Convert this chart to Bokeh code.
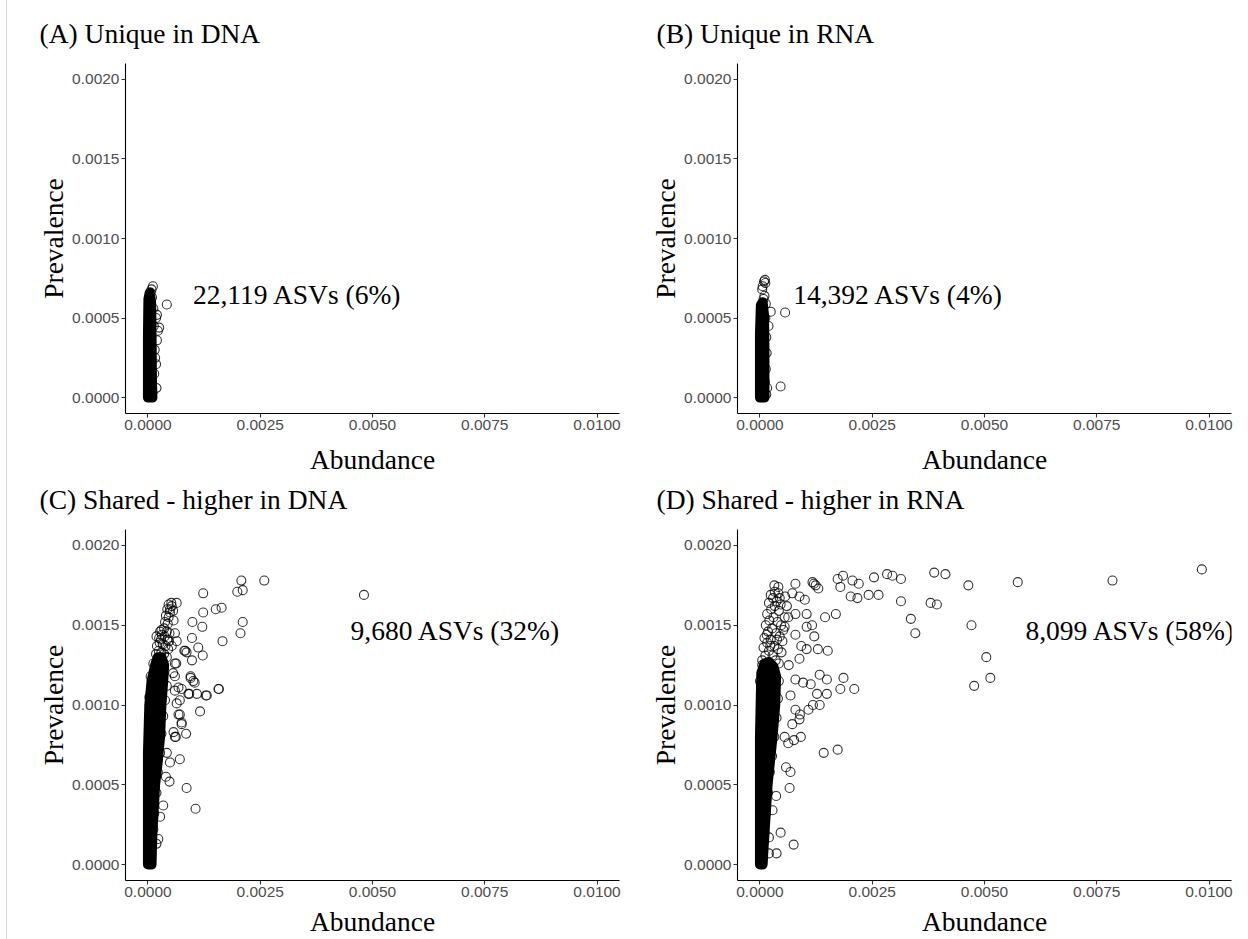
from bokeh.plotting import figure
from bokeh.layouts import column, row
from bokeh.models import FixedTicker, PrintfTickFormatter, Range1d, Label
from bokeh.embed import file_html
from bokeh.resources import INLINE

# ---------------- data ----------------
titles = ["(A) Unique in DNA", "(B) Unique in RNA",
          "(C) Shared - higher in DNA", "(D) Shared - higher in RNA"]
notes = ["22,119 ASVs (6%)", "14,392 ASVs (4%)", "9,680 ASVs (32%)", "8,099 ASVs (58%)"]
x_ticks = [0.0, 0.0025, 0.005, 0.0075, 0.01]
y_ticks = [0.0, 0.0005, 0.001, 0.0015, 0.002]

# dense (saturated) core of each cloud: envelope of the overlapping points
A_core_x = [0.0, 0.00010, 0.00009, 0.00008, 0.00007, 0.00004, 0.00001, 0.0]
A_core_y = [0.0, 0.0, 0.00010, 0.00040, 0.00060, 0.00066, 0.00062, 0.00040]
B_core_x = [0.0, 0.00010, 0.00010, 0.00009, 0.00006, 0.00002, 0.0]
B_core_y = [0.0, 0.0, 0.00030, 0.00052, 0.00060, 0.00058, 0.00040]
C_core_x = [0.0, 0.00008, 0.00010, 0.00016, 0.00022, 0.00027, 0.00030, 0.00034, 0.00036,
            0.00030, 0.00022, 0.00016, 0.00008, 0.00003, 0.0]
C_core_y = [0.0, 0.0, 0.00020, 0.00050, 0.00065, 0.00080, 0.00100, 0.00115, 0.00125,
            0.00130, 0.00130, 0.00125, 0.00115, 0.00100, 0.00070]
D_core_x = [0.0, 0.00006, 0.00008, 0.00017, 0.00028, 0.00034, 0.00036, 0.00030,
            0.00020, 0.00010, 0.00003, 0.0]
D_core_y = [0.0, 0.0, 0.00010, 0.00050, 0.00080, 0.00100, 0.00118, 0.00124,
            0.00127, 0.00126, 0.00120, 0.00080]

# individually visible points
A_x = [0.00011, 0.00008, 0.00006, 0.00009, 0.00042, 0.00025, 0.00022, 0.00020, 0.00018,
       0.00020, 0.00018, 0.00019, 0.00015, 0.00016, 0.00014, 0.00013, 0.00012, 0.00010]
A_y = [0.00070, 0.00068, 0.00066, 0.00063, 0.000585, 0.00044, 0.00042, 0.00052, 0.00050,
       0.00036, 0.00021, 0.00006, 0.00030, 0.00025, 0.00015, 0.00045, 0.00056, 0.00003]
B_x = [0.00011, 0.00009, 0.00012, 0.00006, 0.00005, 0.00010, 0.00008, 0.00013, 0.00056,
       0.00046, 0.00024, 0.00019, 0.00015, 0.00016, 0.00012, 0.00014, 0.00013, 0.00011,
       0.00014, 0.00010]
B_y = [0.00074, 0.00073, 0.00072, 0.00070, 0.00068, 0.00064, 0.00062, 0.00059, 0.000535,
       0.00007, 0.00054, 0.00045, 0.00028, 0.00006, 0.00050, 0.00038, 0.00018, 0.00010,
       0.00002, 0.00001]
C_x = [0.00259, 0.00208, 0.00199, 0.00211, 0.00481, 0.00123, 0.00151, 0.00164, 0.00123,
       0.00099, 0.00121, 0.00211, 0.00206, 0.00166, 0.00098, 0.00112, 0.00122, 0.00083,
       0.00098, 0.00095, 0.00101, 0.00158, 0.00129, 0.00109, 0.00092, 0.00075, 0.00116,
       0.00085, 0.00071, 0.00086, 0.00106, 0.00048, 0.00040, 0.00057, 0.00062, 0.00075,
       0.00068, 0.00071, 0.00064, 0.00053, 0.00049, 0.00057, 0.00060, 0.00064, 0.00053,
       0.00027, 0.00019, 0.00063, 0.00060, 0.00060, 0.00034, 0.00027, 0.00023,
       0.00019, 0.00042, 0.00049, 0.00081, 0.00086, 0.00095, 0.00104, 0.00090, 0.00131,
       0.00157,
       0.00018, 0.00024, 0.00030, 0.00036, 0.00042, 0.00020, 0.00026, 0.00033, 0.00039,
       0.00045, 0.00025, 0.00031, 0.00037, 0.00043, 0.00030, 0.00036, 0.00042, 0.00048,
       0.00038, 0.00044, 0.00040, 0.00046, 0.00043, 0.00049, 0.00046, 0.00052, 0.00056,
       0.00029, 0.00047,
       0.00012, 0.00014, 0.00019, 0.00022, 0.00027, 0.00030, 0.00034, 0.00038, 0.00042,
       0.00060, 0.00056, 0.00068, 0.00064, 0.00071, 0.00075, 0.00060, 0.00003, 0.00006,
       0.00012]
C_y = [0.00178, 0.00178, 0.00171, 0.00172, 0.00169, 0.00170, 0.00160, 0.00161, 0.00158,
       0.00152, 0.00149, 0.00152, 0.00145, 0.00140, 0.00142, 0.00136, 0.00131, 0.00134,
       0.00128, 0.00118, 0.00115, 0.00110, 0.00106, 0.00107, 0.00107, 0.00110, 0.00096,
       0.00082, 0.00066, 0.00048, 0.00035, 0.00052, 0.00055, 0.00083, 0.00080, 0.00089,
       0.00094, 0.00103, 0.00164, 0.00162, 0.00158, 0.00153, 0.00145, 0.00140, 0.00137,
       0.00146, 0.00143, 0.00126, 0.00118, 0.00109, 0.00037, 0.00030, 0.00016,
       0.00013, 0.00070, 0.00064, 0.00134, 0.00133, 0.00117, 0.00114, 0.00107, 0.00106,
       0.00110,
       0.00132, 0.00134, 0.00133, 0.00132, 0.00130, 0.00137, 0.00139, 0.00138, 0.00137,
       0.00135, 0.00142, 0.00144, 0.00143, 0.00141, 0.00147, 0.00148, 0.00146, 0.00145,
       0.00152, 0.00151, 0.00156, 0.00155, 0.00160, 0.00160, 0.00163, 0.00164, 0.00159,
       0.00141, 0.00140,
       0.00022, 0.00032, 0.00045, 0.00058, 0.00070, 0.00082, 0.00093, 0.00103, 0.00112,
       0.00126, 0.00120, 0.00111, 0.00101, 0.00094, 0.00088, 0.00080, 0.00105, 0.00118,
       0.00126]
D_x = [0.00984, 0.00785, 0.00574, 0.00464, 0.00413, 0.00388, 0.00314, 0.00295, 0.00283,
       0.00254, 0.00220, 0.00206, 0.00185, 0.00173, 0.00179, 0.00202, 0.00217, 0.00242,
       0.00264, 0.00314, 0.00380, 0.00394, 0.00336, 0.00346, 0.00471, 0.00504, 0.00513,
       0.00477, 0.00117, 0.00120, 0.00124, 0.00130, 0.00032, 0.00041, 0.00079, 0.00169,
       0.00145, 0.00151, 0.00129, 0.00121, 0.00104, 0.00116, 0.00104, 0.00133, 0.00149,
       0.00186, 0.00179, 0.00210, 0.00149, 0.00127, 0.00133, 0.00118, 0.00108, 0.00089,
       0.00142, 0.00173, 0.00091, 0.00076, 0.00058, 0.00068, 0.00066, 0.00036, 0.00046,
       0.00075, 0.00037, 0.00020, 0.00020, 0.00028, 0.00088, 0.00100, 0.00072, 0.00056,
       0.00044, 0.00079, 0.00063, 0.00055, 0.00079, 0.00092, 0.00104, 0.00088, 0.00064,
       0.00079, 0.00096, 0.00113, 0.00068, 0.00079, 0.00072, 0.00088, 0.00055, 0.00063,
       0.00005, 0.00012, 0.00020, 0.00028, 0.00035, 0.00042, 0.00008, 0.00016, 0.00024,
       0.00032, 0.00040, 0.00048, 0.00010, 0.00018, 0.00027, 0.00036, 0.00044, 0.00013,
       0.00021, 0.00030, 0.00039, 0.00047, 0.00016, 0.00025, 0.00033, 0.00042, 0.00020,
       0.00029, 0.00037, 0.00046, 0.00024, 0.00033, 0.00041, 0.00015, 0.00023, 0.00038,
       0.00050, 0.00052, 0.00055, 0.00060,
       0.00010, 0.00013, 0.00018, 0.00022, 0.00027, 0.00032, 0.00037, 0.00040, 0.00042,
       0.00005, 0.0]
D_y = [0.00185, 0.00178, 0.00177, 0.00175, 0.00182, 0.00183, 0.00179, 0.00181, 0.00182,
       0.00180, 0.00176, 0.00178, 0.00181, 0.00179, 0.00174, 0.00168, 0.00167, 0.00169,
       0.00169, 0.00165, 0.00164, 0.00163, 0.00154, 0.00145, 0.00150, 0.00130, 0.00117,
       0.00112, 0.00177, 0.00176, 0.00175, 0.00173, 0.00175, 0.00174, 0.00176, 0.00157,
       0.00155, 0.00134, 0.00135, 0.00143, 0.00149, 0.00150, 0.00157, 0.00119, 0.00116,
       0.00117, 0.00110, 0.00110, 0.00107, 0.00107, 0.00100, 0.00100, 0.00097, 0.00094,
       0.00070, 0.00072, 0.00080, 0.00078, 0.00061, 0.00058, 0.00048, 0.00043, 0.00020,
       0.000125, 0.00007, 0.00007, 0.00017, 0.00034, 0.00168, 0.00166, 0.00170, 0.00168,
       0.00167, 0.00157, 0.00155, 0.00149, 0.00144, 0.00137, 0.00135, 0.00129, 0.00125,
       0.00116, 0.00114, 0.00113, 0.00106, 0.00097, 0.00088, 0.00091, 0.00080, 0.00076,
       0.00125, 0.00131, 0.00134, 0.00131, 0.00128, 0.00126, 0.00136, 0.00139, 0.00141,
       0.00137, 0.00135, 0.00133, 0.00142, 0.00146, 0.00148, 0.00145, 0.00143, 0.00150,
       0.00153, 0.00155, 0.00152, 0.00150, 0.00157, 0.00160, 0.00162, 0.00159, 0.00164,
       0.00167, 0.00165, 0.00163, 0.00169, 0.00171, 0.00170, 0.00144, 0.00137, 0.00141,
       0.00140, 0.00147, 0.00155, 0.00162,
       0.00020, 0.00032, 0.00045, 0.00058, 0.00068, 0.00080, 0.00092, 0.00104, 0.00115,
       0.00128, 0.00115]

note_pos = [(0.00333, 0.00065), (0.00308, 0.00065), (0.00685, 0.00147), (0.00825, 0.00147)]

SERIF = "Liberation Serif"
SANS = "Liberation Sans"


def panel(i, core_x, core_y, px, py, width, height, left, right, top, bottom,
          title_offset, title_standoff, xlabel_standoff):
    p = figure(width=width, height=height,
               x_range=Range1d(-0.0005, 0.0105), y_range=Range1d(-0.0001, 0.0021),
               output_backend="svg", toolbar_location=None,
               min_border_left=left, min_border_right=right,
               min_border_top=top, min_border_bottom=bottom,
               x_axis_label="Abundance", y_axis_label="Prevalence")
    p.title.text = titles[i]
    p.title.align = "left"
    p.title.offset = title_offset
    p.title.text_font = SERIF
    p.title.text_font_size = "27.5px"
    p.title.text_font_style = "normal"
    p.title.text_color = "black"
    p.title.standoff = title_standoff
    p.outline_line_color = None
    p.xgrid.visible = False
    p.ygrid.visible = False
    p.background_fill_color = None
    p.border_fill_color = None

    p.patch(core_x, core_y, fill_color="black", line_color="black",
            line_width=10, line_join="round")
    p.scatter(px, py, marker="circle", size=9, fill_color=None,
              line_color="black", line_alpha=0.8, line_width=1.1)

    p.xaxis.ticker = FixedTicker(ticks=x_ticks)
    p.yaxis.ticker = FixedTicker(ticks=y_ticks)
    p.xaxis.formatter = PrintfTickFormatter(format="%.4f")
    p.yaxis.formatter = PrintfTickFormatter(format="%.4f")
    for ax in (p.xaxis[0], p.yaxis[0]):
        ax.axis_line_color = "black"
        ax.axis_line_width = 1.1
        ax.major_tick_line_color = "#333333"
        ax.major_tick_line_width = 1.1
        ax.major_tick_out = 4
        ax.major_tick_in = 0
        ax.minor_tick_out = 0
        ax.minor_tick_in = 0
        ax.major_label_text_font = SANS
        ax.major_label_text_font_size = "15.5px"
        ax.major_label_text_color = "#4D4D4D"
        ax.axis_label_text_font = SERIF
        ax.axis_label_text_font_size = "27.5px"
        ax.axis_label_text_font_style = "normal"
        ax.axis_label_text_color = "black"
    p.xaxis.major_label_standoff = 2
    p.xaxis.axis_label_standoff = xlabel_standoff
    p.yaxis.major_label_standoff = 2
    p.yaxis.axis_label_standoff = 0

    nx, ny = note_pos[i]
    p.add_layout(Label(x=nx, y=ny, text=notes[i], text_font=SERIF,
                       text_font_size="27.5px", text_align="center",
                       text_baseline="middle", text_color="black"))
    return p


# top row: canvas from y=-10 to 482, frame 63..413
pA = panel(0, A_core_x, A_core_y, A_x, A_y, 624, 492, 125, 5, 73, 69, -86, 29, 11)
pB = panel(1, B_core_x, B_core_y, B_x, B_y, 624, 492, 113, 17, 73, 69, -81, 29, 11)
# bottom row: canvas from y=455 to 939, frame 529..880
pC = panel(2, C_core_x, C_core_y, C_x, C_y, 624, 484, 125, 5, 74, 59, -86, 29, 6)
pD = panel(3, D_core_x, D_core_y, D_x, D_y, 624, 484, 113, 17, 74, 59, -81, 29, 6)

top = row(pA, pB, spacing=0, margin=(-10, 0, 0, 0))
bottom = row(pC, pD, spacing=0, margin=(-27, 0, 0, 0))
layout = column(top, bottom, spacing=0,
                styles={"background": "linear-gradient(to right, #ffffff 6px, #d9d9d9 6px, "
                                      "#d9d9d9 7px, #ffffff 7px)"})

open("out.html", "w").write(file_html(layout, INLINE))
